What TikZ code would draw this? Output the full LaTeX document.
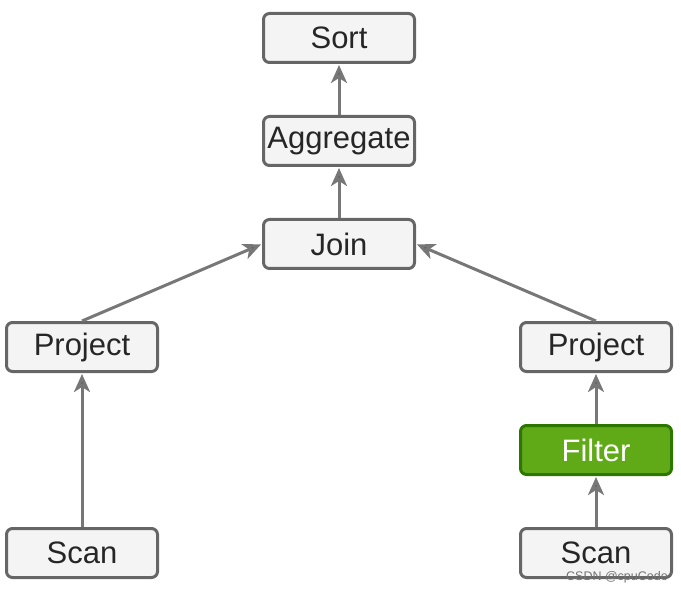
\documentclass[tikz,border=0pt]{standalone}
\usepackage{fontspec}
\setmainfont{Liberation Sans}
\usetikzlibrary{arrows.meta}
\definecolor{boxfill}{HTML}{F4F4F4}
\definecolor{boxdraw}{HTML}{666666}
\definecolor{edgecol}{HTML}{777777}
\definecolor{greenfill}{HTML}{60A917}
\definecolor{greendraw}{HTML}{2D7600}
\tikzset{
  opbox/.style={draw=boxdraw, fill=boxfill, line width=3pt, rounded corners=6pt,
    minimum width=151pt, minimum height=49pt, inner sep=0pt,
    font=\fontsize{31}{34}\selectfont, text=black!85},
  greenbox/.style={opbox, draw=greendraw, fill=greenfill, text=white},
  flow/.style={draw=edgecol, line width=3pt,
    -{Stealth[length=18pt,width=16pt,inset=5pt,fill=edgecol!75!black]}, shorten >=1pt},
}
\begin{document}
\begin{tikzpicture}[x=1pt,y=-1pt]
\useasboundingbox (0,0) rectangle (681,591);
\node[opbox] (sort) at (339,38) {Sort};
\node[opbox] (agg) at (339,141) {Aggregate};
\node[opbox] (join) at (339,244) {Join};
\node[opbox] (projL) at (82,347) {Project};
\node[opbox] (projR) at (596,347) {Project};
\node[greenbox] (filter) at (596,450) {Filter};
\node[opbox] (scanL) at (82,553) {Scan};
\node[opbox] (scanR) at (596,553) {Scan};
\draw[flow] (agg.north) -- (sort.south);
\draw[flow] (join.north) -- (agg.south);
\draw[flow] (projL.north) -- (join.west);
\draw[flow] (projR.north) -- (join.east);
\draw[flow] (scanL.north) -- (projL.south);
\draw[flow] (filter.north) -- (projR.south);
\draw[flow] (scanR.north) -- (filter.south);
\node[font=\fontsize{12.5}{14}\selectfont, text=black!55, anchor=east, inner sep=1pt] (wm) at (669,577) {CSDN @cpuCode};
\end{tikzpicture}
\end{document}
